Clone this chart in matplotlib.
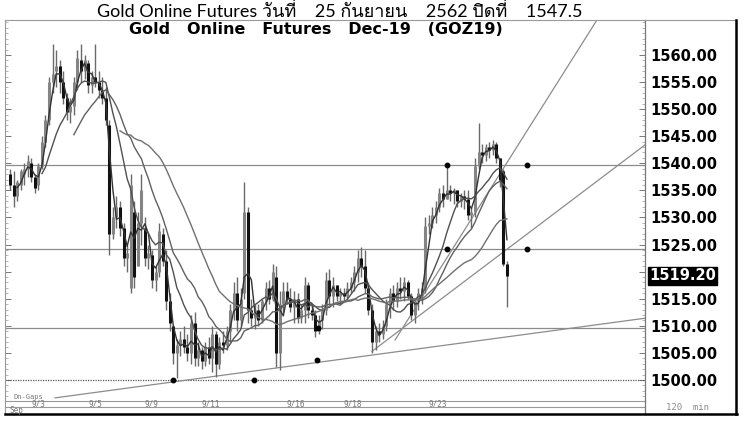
import matplotlib
matplotlib.use("Agg")
import matplotlib.pyplot as plt
import matplotlib.transforms as mtransforms
from matplotlib import font_manager
from matplotlib.ft2font import FT2Font
from matplotlib.lines import Line2D
import numpy as np

W, H = 750, 422

# 120 min bars (9/2 .. 9/25)
highs = [1539, 1538.5, 1537, 1539, 1540, 1541.5, 1541, 1538, 1540, 1545,
         1549, 1556, 1562, 1561, 1559, 1557, 1553, 1552, 1556, 1561,
         1562, 1560, 1559, 1557, 1562, 1557, 1556, 1554, 1548, 1532,
         1534, 1533, 1529, 1525, 1538, 1533, 1531, 1538, 1530, 1525,
         1524, 1521, 1529, 1528, 1524, 1516, 1510, 1507.5, 1509, 1510,
         1508.5, 1512, 1512.5, 1507, 1506, 1507, 1508, 1510, 1509, 1508,
         1509, 1510, 1514, 1518, 1519, 1517, 1536.5, 1532, 1515, 1514,
         1514, 1515, 1518, 1518.5, 1521.5, 1521, 1516.5, 1518, 1518, 1517,
         1516.5, 1516, 1514, 1519, 1518, 1514, 1513, 1512, 1514, 1520,
         1520.5, 1519, 1517.5, 1517, 1517, 1518, 1519, 1521, 1524, 1524.5,
         1524, 1518, 1514, 1510, 1510.5, 1511, 1515, 1517, 1517.5, 1518,
         1519, 1519, 1518.5, 1516, 1515, 1517, 1518, 1530, 1530.5, 1532,
         1533, 1535.5, 1536, 1539.7, 1536, 1535.5, 1535, 1534.5, 1535, 1535,
         1532, 1541, 1547.5, 1543.5, 1543.5, 1544, 1544.3, 1544, 1541, 1539,
         1522]
lows = [1535, 1532, 1533, 1535, 1536, 1537.5, 1536.5, 1534.5, 1535, 1539,
        1543, 1547, 1553, 1554, 1553, 1551, 1548, 1547.5, 1549, 1553.5,
        1555, 1555.5, 1553, 1553, 1554, 1552, 1551, 1547, 1523, 1526,
        1528, 1526.5, 1521, 1520, 1516, 1517, 1521, 1525, 1521, 1520.5,
        1517, 1516.5, 1519, 1521, 1513, 1509, 1503, 1500.4, 1504.5, 1505,
        1503.5, 1503, 1502.5, 1502.5, 1502, 1502.5, 1503, 1501.5, 1500.5, 1502,
        1505, 1505.5, 1507, 1511, 1509, 1510, 1515, 1510.5, 1510, 1509.5,
        1510, 1510.5, 1513, 1514, 1514.5, 1502.4, 1501.8, 1512.5, 1514, 1512.5,
        1510.5, 1510.5, 1510.5, 1510.5, 1511.5, 1511, 1508, 1508.5, 1509.5, 1512,
        1514, 1513.5, 1514.5, 1514, 1514.5, 1515, 1516, 1516.5, 1518, 1519,
        1516, 1512, 1505, 1505.5, 1507, 1507.5, 1509, 1511.5, 1513, 1513.5,
        1515, 1514.5, 1515, 1511, 1510.5, 1513, 1514, 1516, 1527, 1528,
        1529, 1531, 1532, 1533.5, 1533, 1532.5, 1532, 1532, 1531.5, 1529.5,
        1528, 1530, 1539, 1540, 1540.5, 1541, 1541.5, 1540, 1535.6, 1521,
        1513.5]
opens = [1538, 1536, 1534, 1536, 1538, 1539, 1540, 1537.5, 1536, 1539.5,
         1544, 1548, 1555, 1557, 1558, 1555, 1552, 1549.5, 1550.5, 1555,
         1559, 1557, 1558.5, 1554.5, 1556, 1555, 1553.5, 1552, 1547, 1527,
         1530, 1532, 1528, 1522.5, 1517, 1531, 1521, 1529, 1528, 1522.5,
         1523, 1518.5, 1520, 1527, 1522, 1514.5, 1510, 1505, 1506.5, 1507.5,
         1506, 1505, 1510.5, 1504, 1505.5, 1503.5, 1506, 1504, 1508.5, 1503,
         1507, 1506.5, 1509, 1513, 1516, 1511, 1516, 1531, 1513, 1511.5,
         1513, 1511, 1514.5, 1517, 1515, 1519, 1505, 1514, 1516.5, 1515,
         1513.5, 1515, 1511.5, 1513, 1517.5, 1513, 1512, 1509, 1511, 1513,
         1518.5, 1515.5, 1517.5, 1515.5, 1516, 1515.5, 1517, 1518, 1520, 1522.5,
         1521, 1517, 1513, 1507, 1509, 1508.5, 1510, 1514, 1516, 1514.5,
         1517, 1516.5, 1518, 1515.5, 1512, 1514.5, 1516, 1517, 1528.5, 1529,
         1530.5, 1532, 1534.5, 1533.5, 1535, 1534.5, 1535, 1533, 1534, 1533.5,
         1530.5, 1531, 1539.5, 1542, 1541.5, 1543, 1542.5, 1543.5, 1541, 1538.5,
         1521.5]
closes = [1536, 1534, 1536.5, 1538.5, 1539, 1540.5, 1537.5, 1535.5, 1539.5, 1544,
          1548, 1555, 1556.5, 1558, 1555, 1552, 1549.5, 1550.5, 1555, 1559.5,
          1557, 1559, 1554.5, 1556, 1555, 1553.5, 1552, 1548, 1527, 1530,
          1532, 1528, 1522.5, 1523.5, 1536, 1519, 1529, 1535, 1522.5, 1523.5,
          1518.5, 1520, 1527.5, 1522, 1514.5, 1510.5, 1505, 1506.5, 1507.5, 1506,
          1505, 1510.5, 1504, 1505.5, 1503.5, 1506, 1504, 1508.5, 1503, 1507,
          1506.5, 1509, 1513, 1516, 1511, 1515, 1531, 1513, 1511.5, 1513,
          1511, 1514.5, 1517, 1515, 1520, 1505, 1514, 1516.5, 1515, 1513.5,
          1515, 1511.5, 1513, 1517.5, 1513, 1512, 1509, 1511, 1513, 1518.5,
          1515.5, 1517.5, 1515.5, 1516, 1515.5, 1517, 1518, 1520, 1522.5, 1521,
          1517, 1513, 1507, 1509, 1508.5, 1510, 1514, 1516, 1514.5, 1517,
          1516.5, 1518, 1515.5, 1512, 1514.5, 1516, 1517, 1528.5, 1529, 1530.5,
          1532, 1534.5, 1533.5, 1535, 1534.5, 1535, 1533, 1534, 1533.5, 1530.5,
          1531, 1539.5, 1542, 1541.5, 1543, 1542.5, 1543.5, 1541, 1537, 1521.5,
          1519.2]

ma_windows = [3, 10, 19, 32]

date_labels = ['9/3', '9/5', '9/9', '9/11', '9/16', '9/18', '9/23']
date_bars = [6, 22, 38, 54, 78, 94, 118]

# drawn support / resistance levels and trend lines (bar, price)
levels = [1539.6, 1524.2, 1509.6]
base_level = 1500.0
trend_lines = [((12.7, 1496.7), (178.9, 1511.4)),
               ((102.0, 1505.3), (178.9, 1543.4)),
               ((108.5, 1507.4), (165.4, 1566.5))]
marks = [(123.1, 1539.6), (145.6, 1539.6), (123.1, 1524.2), (145.6, 1524.2),
         (86.8, 1509.6), (45.9, 1500.0), (68.7, 1500.0), (86.5, 1503.6)]

last_price = 1519.2
title = 'Gold Online Futures วันที่    25 กันยายน    2562 ปิดที่    1547.5'
subtitle = 'Gold   Online   Futures   Dec-19   (GOZ19)'


def thai_font():
    for f in font_manager.fontManager.ttflist:
        try:
            if 0x0E27 in FT2Font(f.fname).get_charmap():
                return f.name
        except Exception:
            continue
    return 'DejaVu Sans'


def fx(px):
    return px / W


def fy(py):
    return 1 - py / H


fig = plt.figure(figsize=(W / 100, H / 100), dpi=100)
fig.patch.set_facecolor('white')

ax = fig.add_axes([fx(5), fy(401), fx(640), 381 / H])
ax.set_xlim(-1.41, 178.9)
ax.set_ylim(1496.12, 1566.46)

x = np.arange(len(closes))
o = np.array(opens)
c = np.array(closes)
ax.vlines(x, lows, highs, color='#6a6a6a', lw=1.0, zorder=3)
down = c < o
ax.vlines(x[down], c[down], o[down], color='#111111', lw=2.2, zorder=4)
ax.vlines(x[~down], o[~down], c[~down], color='#858585', lw=2.2, zorder=4)

for w, col in zip(ma_windows, ['#333333', '#505050', '#606060', '#707070']):
    ma = np.convolve(c, np.ones(w) / w, mode='valid')
    ax.plot(x[w - 1:], ma, color=col, lw=1.0, zorder=5)

for lv in levels:
    ax.axhline(lv, color='#8c8c8c', lw=0.9, zorder=2)
ax.axhline(base_level, color='#555555', lw=0.9, ls=(0, (1, 1)), zorder=2)

for (x0, y0), (x1, y1) in trend_lines:
    ax.plot([x0, x1], [y0, y1], color='#8c8c8c', lw=0.9, zorder=2)

ax.plot([m[0] for m in marks], [m[1] for m in marks], 'o', ms=3.2,
        color='black', zorder=6)

# price scale on the right
ax.yaxis.set_ticks_position('both')
ax.set_yticks(np.arange(1500, 1561, 5))
ax.set_yticks(np.arange(1497, 1567, 1), minor=True)
ax.yaxis.set_major_formatter(
    plt.FuncFormatter(lambda v, p: '' if abs(v - 1520) < 0.1 else '%.2f' % v))
ax.tick_params(axis='y', which='major', direction='in', length=4, width=0.7,
               color='#777777', labelleft=False, labelright=True, pad=4,
               labelsize=10.5)
ax.tick_params(axis='y', which='minor', direction='in', length=2.5, width=0.5,
               color='#999999')
for lab in ax.get_yticklabels():
    lab.set_fontweight('bold')
    lab.set_family('DejaVu Sans')
ax.set_xticks([])
for side in ['left', 'top', 'bottom']:
    ax.spines[side].set_color('#999999')
    ax.spines[side].set_linewidth(0.8)
ax.spines['right'].set_color('#777777')
ax.spines['right'].set_linewidth(0.9)

blend_y = mtransforms.blended_transform_factory(ax.transAxes, ax.transData)
ax.text(1.0 + 4 / 640, last_price, '%.2f' % last_price, transform=blend_y,
        ha='left', va='center', fontsize=10.5, fontweight='bold',
        color='white', family='DejaVu Sans', zorder=10, clip_on=False,
        bbox=dict(boxstyle='square,pad=0.08', facecolor='black',
                  edgecolor='black'))

# date strip
blend_x = mtransforms.blended_transform_factory(ax.transData, ax.transAxes)
for b, lab in zip(date_bars, date_labels):
    ax.text(b, -3.3 / 381, lab, transform=blend_x, ha='left', va='center',
            fontsize=5.5, color='#777777', family='DejaVu Sans Mono',
            clip_on=False)
ax.text(8 / 640, 4 / 381, 'Dn-Gaps', transform=ax.transAxes, fontsize=5,
        color='#777777', family='DejaVu Sans Mono', va='center')
fig.text(fx(10), fy(410.5), 'Sep', fontsize=5.5, color='#777777',
         family='DejaVu Sans Mono', va='center')
fig.text(fx(688), fy(407), '120  min', fontsize=6.5, color='#8a8a8a',
         family='DejaVu Sans Mono', ha='center', va='center')

fig.add_artist(Line2D([fx(5), fx(645)], [fy(407), fy(407)], color='#999999', lw=0.8))
fig.add_artist(Line2D([fx(645), fx(645)], [fy(401), fy(414)], color='#777777', lw=0.9))
fig.add_artist(Line2D([fx(645), fx(736)], [fy(20), fy(20)], color='#999999', lw=0.8))
fig.add_artist(Line2D([fx(5), fx(5)], [fy(401), fy(414)], color='#999999', lw=0.8))
fig.add_artist(Line2D([fx(5), fx(737)], [fy(414), fy(414)], color='black', lw=1.8))
fig.add_artist(Line2D([fx(736), fx(736)], [fy(20), fy(414)], color='black', lw=1.8))

thai = thai_font()
fig.text(fx(340), fy(11), title, ha='center', va='center', fontsize=13,
         family=['Lato', thai, 'DejaVu Sans'], color='black')
fig.text(fx(316), fy(29), subtitle, ha='center', va='center', fontsize=11.5,
         fontweight='bold', family='DejaVu Sans', color='black')

fig.savefig('out.png', dpi=100)
